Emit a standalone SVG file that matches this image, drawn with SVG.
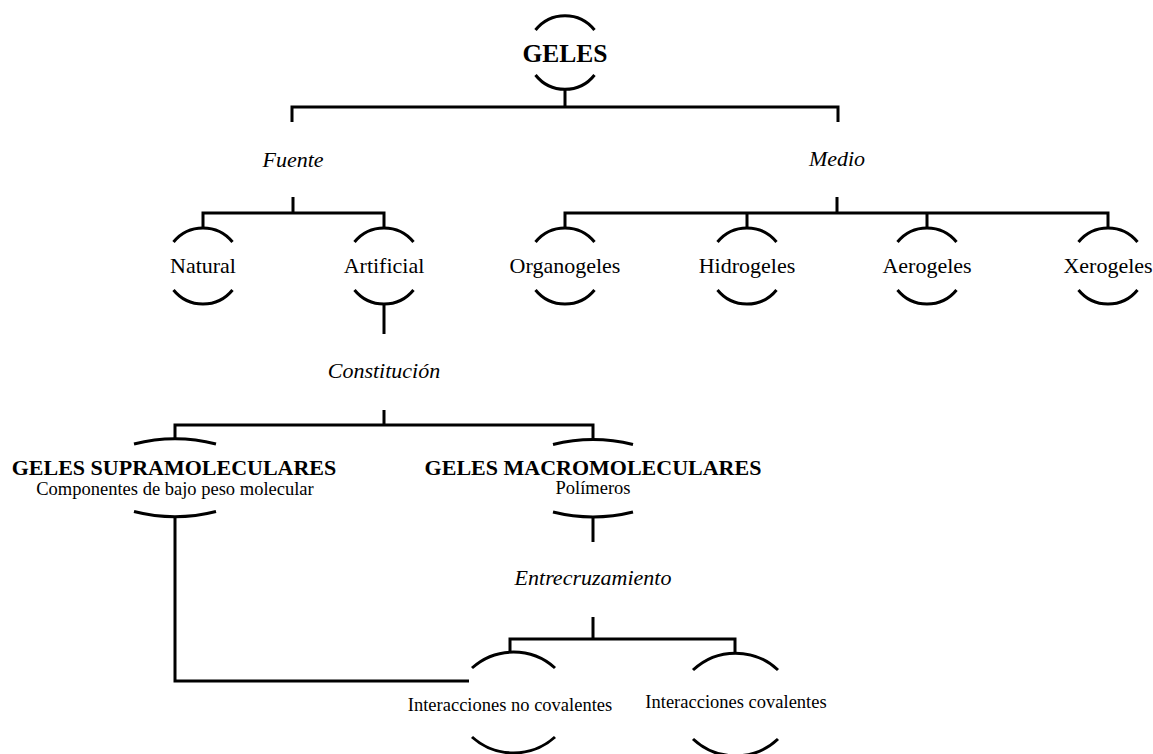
<svg xmlns="http://www.w3.org/2000/svg" width="1153" height="754" viewBox="0 0 1153 754">
<style>
.ln{fill:none;stroke:#000;stroke-width:3;stroke-linecap:butt;stroke-linejoin:miter}
.arc{fill:none;stroke:#000;stroke-width:3}
text{font-family:"Liberation Serif","Times New Roman",serif;fill:#000;text-anchor:middle}
.t{font-size:22px}
.it{font-size:22px;font-style:italic}
.b{font-size:22px;font-weight:bold}
.big{font-size:25.5px;font-weight:bold}
.s{font-size:18.5px}
</style>
<rect width="1153" height="754" fill="#fff"/>
<g id="connectors">
<path class="ln" d="M565 90V107M292 122V107H838V122"/>
<path class="ln" d="M293 197V213M203 228V213H384V228"/>
<path class="ln" d="M837 197V213M565 228V213H1108V228M747 213V228M927 213V228"/>
<path class="ln" d="M384 304V334"/>
<path class="ln" d="M384 410V425M175 440V425H593V440"/>
<path class="ln" d="M593 517V542"/>
<path class="ln" d="M593 617V639M510 652V639H735V653"/>
<path class="ln" d="M175 516V681H469"/>
<text class="it" x="293" y="167">Fuente</text>
<text class="it" x="837" y="166">Medio</text>
<text class="it" x="384" y="378">Constitución</text>
<text class="it" x="593" y="585">Entrecruzamiento</text>
</g>
<g id="n-geles">
<path class="arc" d="M535.5 30A37.5 37.5 0 0 1 594.5 30M594.5 75A37.5 37.5 0 0 1 535.5 75"/>
<text class="big" x="565" y="62">GELES</text>
</g>
<g id="n-natural">
<path class="arc" d="M173.5 242A38 38 0 0 1 232.5 242M232.5 290A38 38 0 0 1 173.5 290"/>
<text class="t" x="203" y="273">Natural</text>
</g>
<g id="n-artificial">
<path class="arc" d="M354.5 242A38 38 0 0 1 413.5 242M413.5 290A38 38 0 0 1 354.5 290"/>
<text class="t" x="384" y="273">Artificial</text>
</g>
<g id="n-organogeles">
<path class="arc" d="M535.5 242A38 38 0 0 1 594.5 242M594.5 290A38 38 0 0 1 535.5 290"/>
<text class="t" x="565" y="273">Organogeles</text>
</g>
<g id="n-hidrogeles">
<path class="arc" d="M717.5 242A38 38 0 0 1 776.5 242M776.5 290A38 38 0 0 1 717.5 290"/>
<text class="t" x="747" y="273">Hidrogeles</text>
</g>
<g id="n-aerogeles">
<path class="arc" d="M897.5 242A38 38 0 0 1 956.5 242M956.5 290A38 38 0 0 1 897.5 290"/>
<text class="t" x="927" y="273">Aerogeles</text>
</g>
<g id="n-xerogeles">
<path class="arc" d="M1078.5 242A38 38 0 0 1 1137.5 242M1137.5 290A38 38 0 0 1 1078.5 290"/>
<text class="t" x="1108" y="273">Xerogeles</text>
</g>
<g id="n-supra">
<path class="arc" d="M134 444A166 166 0 0 1 216 444M216 511.5A166 166 0 0 1 134 511.5"/>
<text class="b" x="174" y="475">GELES SUPRAMOLECULARES</text>
<text class="s" x="175" y="495">Componentes de bajo peso molecular</text>
</g>
<g id="n-macro">
<path class="arc" d="M553 444.5A166 166 0 0 1 633 444.5M633 512A166 166 0 0 1 553 512"/>
<text class="b" x="593" y="475">GELES MACROMOLECULARES</text>
<text class="s" x="593" y="494">Polímeros</text>
</g>
<g id="n-nocov">
<path class="arc" d="M472 668A62 62 0 0 1 555 668M555 737A62 62 0 0 1 472 737"/>
<text class="s" x="510" y="711">Interacciones no covalentes</text>
</g>
<g id="n-cov">
<path class="arc" d="M693 670A62 62 0 0 1 778 670M778 739A62 62 0 0 1 693 739"/>
<text class="s" x="736" y="708">Interacciones covalentes</text>
</g>
</svg>
